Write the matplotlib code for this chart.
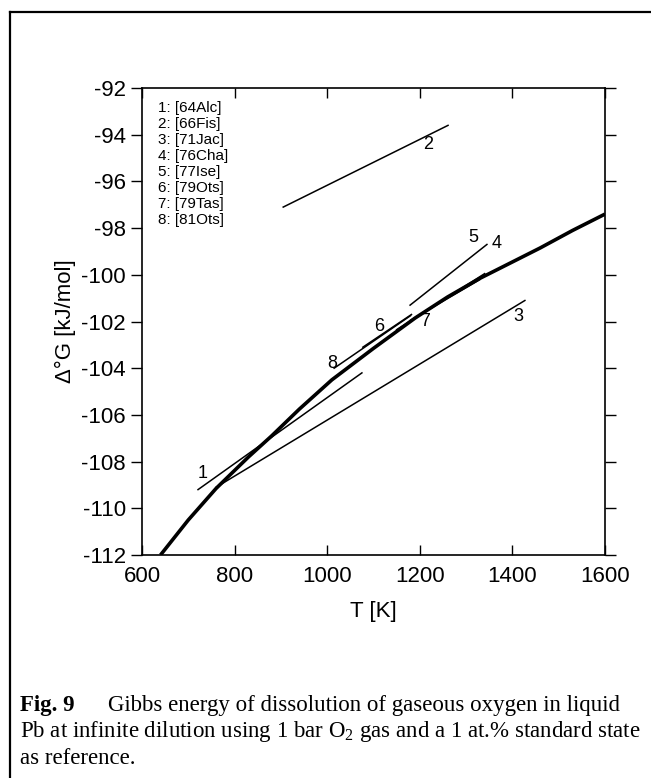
import matplotlib
matplotlib.use("Agg")
import matplotlib.pyplot as plt
from matplotlib.lines import Line2D

plt.rcParams['font.family'] = ['Liberation Sans', 'DejaVu Sans']
plt.rcParams['mathtext.fontset'] = 'custom'
plt.rcParams['mathtext.rm'] = 'Liberation Serif'
plt.rcParams['axes.unicode_minus'] = False

# Assessed curve (thick line)
T_calc = [640, 700, 760, 830, 880, 940, 1010, 1100, 1190, 1260, 1330, 1400, 1460, 1530, 1600]
G_calc = [-112.0, -110.5, -109.15, -107.8, -106.9, -105.75, -104.5, -103.15, -101.85,
          -100.95, -100.15, -99.45, -98.85, -98.1, -97.4]

# Literature lines: (T start, T end), (G start, G end)
lit_ids = ['1', '2', '3', '4', '5', '6', '7', '8']
lit_T = [(721, 1075), (905, 1261), (760, 1427), (1150, 1340),
         (1179, 1345), (1077, 1182), (1180, 1330), (1015, 1180)]
lit_G = [(-109.2, -104.2), (-97.1, -93.6), (-109.1, -101.1), (-102.35, -99.95),
         (-101.3, -98.7), (-103.1, -101.7), (-101.95, -100.2), (-104.0, -101.75)]

# where each number sits
lab_T = [730, 1218, 1412, 1367, 1315, 1112, 1211, 1010]
lab_G = [-108.5, -94.4, -101.8, -98.65, -98.4, -102.2, -102.0, -103.8]

legend_entries = ['1: [64Alc]', '2: [66Fis]', '3: [71Jac]', '4: [76Cha]',
                  '5: [77Ise]', '6: [79Ots]', '7: [79Tas]', '8: [81Ots]']

x_ticks = [600, 800, 1000, 1200, 1400, 1600]
y_ticks = list(range(-112, -91, 2))

W, H = 651, 778
fig = plt.figure(figsize=(W / 100, H / 100), dpi=100)
ax = fig.add_axes([142 / W, 1 - 555 / H, 463 / W, 467 / H])

ax.plot(T_calc, G_calc, color='k', lw=2.6, solid_capstyle='butt')
for ts, gs in zip(lit_T, lit_G):
    ax.plot(ts, gs, color='k', lw=1.1)
for lid, t, g in zip(lit_ids, lab_T, lab_G):
    ax.text(t, g, lid, fontsize=13, ha='center', va='center')

ax.text(0.035, 0.972, '\n'.join(legend_entries), transform=ax.transAxes,
        fontsize=11, va='top', ha='left', linespacing=1.18)

ax.set_xlim(600, 1600)
ax.set_ylim(-112, -92)
ax.set_xticks(x_ticks)
ax.set_yticks(y_ticks)
ax.tick_params(axis='x', direction='in', length=7, width=1, top=True, labelsize=16, pad=8)
ax.tick_params(axis='y', direction='out', length=8, width=1, right=True, labelsize=16)
for s in ax.spines.values():
    s.set_linewidth(1.2)

ax.set_xlabel('T [K]', fontsize=16, labelpad=10)
ax.set_ylabel('\u0394\u00b0G [kJ/mol]', fontsize=16, labelpad=4)

# page frame around the figure
fig.add_artist(Line2D([10 / W, 10 / W], [0, 1 - 12 / H], transform=fig.transFigure, color='k', lw=1.6))
fig.add_artist(Line2D([10 / W, 1], [1 - 12 / H, 1 - 12 / H], transform=fig.transFigure, color='k', lw=1.6))

# caption
cap = dict(family='Liberation Serif', fontsize=16.5, va='center', ha='left')
fig.text(20 / W, 1 - 706 / H, 'Fig. 9', fontweight='bold', **cap)
fig.text(108 / W, 1 - 706 / H, 'Gibbs energy of dissolution of gaseous oxygen in liquid', **cap)
fig.text(20 / W, 1 - 732 / H, 'Pb at infinite dilution using 1 bar O$_2$ gas and a 1 at.% standard state', **cap)
fig.text(20 / W, 1 - 758 / H, 'as reference.', **cap)

fig.savefig('out.png', dpi=100)
